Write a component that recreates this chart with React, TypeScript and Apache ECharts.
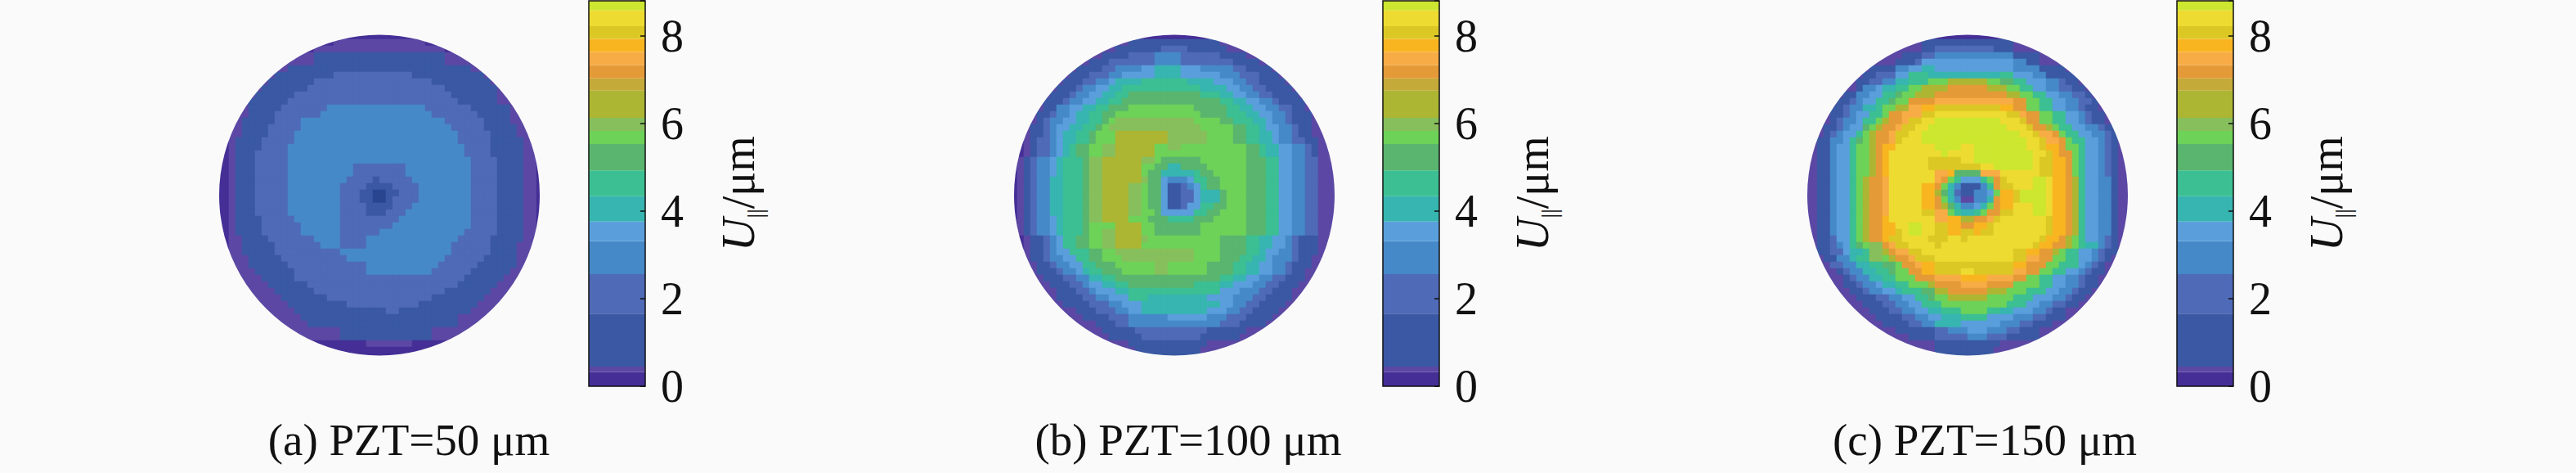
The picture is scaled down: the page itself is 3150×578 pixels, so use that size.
import React, { useEffect, useRef } from "react";
import * as echarts from "echarts";

const bandLetters = "abcdefghijklmnopqrs".split("");
const bandEdges = [0, 0.32, 0.45, 1.66, 2.56, 3.31, 3.76, 4.34, 4.93, 5.53, 5.83, 6.13, 6.75, 7.03, 7.33, 7.63, 7.93, 8.22, 8.58, 8.8];
const bandColors = ["#452f97", "#5c48a4", "#3a58a3", "#4f6ab6", "#4689c8", "#5a9fdc", "#37b5b0", "#3bbf93", "#5ab56e", "#6dd258", "#87bf5c", "#acb633", "#c4aa38", "#e59a38", "#f7ac45", "#f9b520", "#dcc825", "#eedb31", "#cde62f"];
const centreColor = "#2a4590";
const colorbarTicks = [0, 2, 4, 6, 8];
const captions = ["(a) PZT=50 μm", "(b) PZT=100 μm", "(c) PZT=150 μm"];

// Each row is run-length coded: a band letter followed by the number of cells, centred on the grid.
const panelARows = [
  "a14", "a3b14a3", "a2b20a2", "b4c20b4", "b5c20b5", "b3c28b3", "b2c9d12c11b2", "b2c7d18c9b2", "b2c7d21c8b2", "b2c6d24c7b3",
  "b1c6d26c6b3", "b2c5d7e15d7c6b2", "b3c4d7e17d7c5b3", "b2c5d4e22d6c4b3", "b3c4d5e23d5c5b3", "b3c4d4e25d5c4b3",
  "a2b1c4d5e25d5c5b2a1", "a2b1c4d4e27d4c5b2a1", "a2b1c3d5e27d4c5b2a1", "a2b1c3d5e28d4c4b2a1",
  "a2b1c3d5e10d8e10d4c4b2a1", "a2b1c3d5e10d8e10d4c4b2a1", "a2b1c3d5e9d4c1d5e9d4c4b2a1", "a2b1c3d5e8d4c4d4e8d4c4b2a1",
  "a2b1c3d5e8d3c2z2c2d3e8d4c4b2a1", "a2b1c3d5e8d3c2z2c1d4e8d4c4b2a1", "a2b1c3d5e8d4c4d3e9d4c4b2a1", "a2b1c3d5e8d4c3d3e10d4c4b2a1",
  "a2b1c4d5e7d9e11d4c4b2a1", "a2b1c4d6e6d8e12d4c4b2a1", "a2b1c4d6e6d6e13d5c4b2a1", "a2b2c4d7e4d4e14d5c5b2a1",
  "a2b2c5d7e3d4e13d6c4b3a1", "a2b2c5d10e17d6c4b3a1", "b4c5d10e15d6c5b3", "b4c6d12e11d6c6b3", "b4c6d11e10d6c6b3",
  "b5c5d26c6b4", "b5c6d23c6b4", "b6c6d20c7b5", "b6c7d16c8b5", "b6c9d11c9b5", "b6c14d2c11b5", "b6c24b6", "b6c23b5",
  "b9c14b7", "b8c14b6", "a10b7a7", "a18", "a10",
];

const panelBRows = [
  "a14", "b3c14b3", "b3c7d4c6b4", "b3c4d4e4d6c4b3", "b2c3d7e4d8c4b2", "b2c4d2e4f2g4f3e5d2c4b2",
  "b2c3d3e2f5g4f6e3d3c3b2", "b2c3d2e2f1g4h7g4f3e2d2c4b2", "b2c3d1e2f2g2h12g4f2e2d2c4b2",
  "b2c3d1e2f2g2h2i11h3g2f2e2d2c4b2", "b1c3d1e2f2g2h2i15h2g2f2e2d1c4b1",
  "b2c2e2f2g2h2i3j10i5h2g2f2e2d2c2b2", "b2c2d1e2f1g2h2i2j13i4h3g2f2e2d1c3b2",
  "b2c1d1e2f2g2h2i1j1k12j4i2h3g2f1e2d1c3b2", "b2c2d1e1f2g2h2i1j1k14j5i2h2g1f2e2d1c2b3",
  "b2c2d1e1f1g2h2i1j3l8k6j4i2h2g2f1e2d1c2b3", "a2b1c1d2e1f1g2h2i1j3l8k6j4i2h2g2f1e2d2c2b3",
  "a2b1c1d2e1f1g1h1i2j2k2l6j2k2j10i2h1g2f2e2d1c1b3", "a2b1c1d2e1f1g1h1i2j2k2l6j14i2h1g2f2e2d1c1b3",
  "a1b1c1d1e2f1g1h3i1k2l6k2j1i6j7i3h2f2e2d2b3", "a1b1c1d1e2f1g1h3i1k2l6j2i2g2i4j6i3h2f2e2d2b3",
  "a1b1c1d1e2f1g1h3i1k2l6j1i2g1g4h1i2j5i3h2f2e2d2b3", "a1b1c1d1e2g2h3i1k2l6k1i2f1e3f1h2i2j4i3h2f2e2d2b3",
  "a1b1c1d1e2g2h3i1k2l4k2j1i2f1c2d1e1f1h1i2j4i3h2f2e2d2b3", "a1b1c1d1e2g2h3i1k2l4k2j1i2f1c2d2f1g3i1j3i3h2f2e2d2b3",
  "a1b1c1d1e2g2h3i1k2l4k2j1i2f1c2d2f1g3i1j3i3h2f2e2d2b3", "a1b1c1d1e2g2h3i1k2l4k2j1i2f1c2d1f2h2i2j3i3h2f2e2d2b3",
  "a1b1c1d1e2g2h3i1k2l4k2j2i1f5h2i2j4i3h2f2e2d2b3", "a1b1c1d1e2f1g1h3i1k2l4j3i3h4i3j5i3h2f2e2d2b3",
  "a1b1c1d1e2f1g1h3i1j4l4j2i7j7i3h2f2e2d2b3", "a1b1c1d1e2f1g1h3i1j2k2l4j2i7j7i3h2f2e2d2b3",
  "a2b1c2d1e1f1h2i2j2k2l4k1j11i4h2g2f2e1d1c3b3", "a2b1c2d1e1f1h2i2j2k2l4j12i4h2g2f2e1d1c3b3",
  "a2b1c2d1e1f2h3i2j2k12j4i4h2g1f2e2d1c3b3", "b2c2d1e2f2h2i2j3k11j4i3h2g2f1e3d1c2b3",
  "b3c2d1e2f2h2i3j6k2j6i4h2g2f2e2d1c3b3", "b2c3d1e2f1g1h2i3j5k2j6i4h2g2f2e2d1c2b3",
  "b3c3d2e2g2h2i16h2g2f2e2d2c3b3", "b3c3d2e1f2g2h2i10h4g2f3e2d2c3b3", "b4c3d2e1f3g2h4h6h4f3e3d2c3b4",
  "b3c4d2e2f3h3g9f4e3d2c4b3", "b3c4d3e2f3g12f2e2d2c4b3", "b4c3d3e2f2g10f3e2d2c4b3", "b4c4d3e6f6e3d3c4b3",
  "b5c3d2e14d3c4b3", "b4c5d11c6b4", "b4c5d9c6b4", "b5c12b7", "b3c10b5", "c10",
];

const panelCRows = [
  "a14", "b3c14b3", "b5c2d9c3b5", "b4c3d2e12c4b3", "b4c3d1f14e2c2b4", "b2c4e2f2g2f12e4c4b2",
  "b2c2d3f2h3g11h2f3e2c5b1", "b2c2d2e2g2h3j3l6j2i2h2f3e2d1c2b2", "b3c1e2f1g2h2j2l4n6l3j2h2f2e2d2c2b2",
  "b2c2e2f2h2i1j2l3n11l2j2h2f2e2d2c1b2", "b1c2d1e1f2h2i1j2n4o12n2j2h2f2e2d2c1b1",
  "b1c2d1e2g2h1j2l2o2p2q10p2n2j2h2f2e2d1c2b2", "b2c2d1e1f2h2j1n2o3q2r11q2o1n2j2h2f2e1d1c2b2",
  "b2c1d1e2f1h2j1l1n2o1q2r2s10r3q1n2j2h2f2e1d1c2b2", "b2c2d1e1f2i1j1l1n2o1q2r2s12r3q1n2l1j1h2f2e2d1c2b1",
  "b2c1d1e1f2h1j1l1n2o1q2r2s15r2q1o2n1j1h2f2e2d1c1b1", "b2c2e2f1h1i1j1l1n2o1q1r3s16r2q1o2n1j1h2f2e1d1c1b2",
  "b2c2e1f2h1j2l1n1p2r6s4r2s8r2q1p2n1j2h1f2e1d1c1b2", "b2c2e1f2h1j2l1n1p1r8s1r4s9r2q1p1n2j1h1f2e1d1c1b2",
  "b2c2e1f2h1j2l1n1p1r6q5r2s9r1q2p2n1j1h1f2e1d1c1b2", "b2c2e1f2h1j2l1n1p1r6q8r2s6r1q2p2n1j1h1f2e1d1c1b2",
  "b2c2e1f2h1j2l1n1p1r7o2p1i4o3r5r1q2p2n1j1h1f2e1d1c1b2", "b2c2e1f2h1j1l1n2o1r7o1n1j1h1f3h1j1n1q1r4s2r1p2n1l1h1f2e2c1b2",
  "b2c2e1f2h1j1l1n2o1r5p2n1j1g1e1c3e1h1n1q2r3s2r1p2n1l1h1f2e2c1b2", "b2c2e1f2h1j1l1n2o1r5p2l1i1g1d1c2e2f1j1p2q1s2s2r1p2n1l1h1f2e2c1b2",
  "b2c2e1f2h1j1l1n2o1r5p2n1j1g1e1b2e2g1n1p2q1s2s2r1p2n1l1h1f2e2c1b2", "b2c2e1f2h1j1l1n2o1r5p2n1l1i1g1e2f1g1j1n1p2r3s2r1p2n1l1h1f2e2c1b2",
  "b2c2e1f2h1j1l1n2o1r5q2o2j1h1g2h1j1n2q2r3s2r1p2n1l1h1f2e2c1b2", "b2c2e1f2h1j1l1n2p1r7o2p2l2n2o1q1r5r2q1p2n1l1h1f2e2c1b2",
  "b2c2e1f2h1j1l1n2p2r2s2r2q2p2n2p2q1r8q1p2n1l1h1f2e2c1b2", "b2c2e1f2h1j1l1n2p2q1r1s2r2q2p2q2p1q2r8q1p2n1l1h1f2e2c1b2",
  "b2c2d1f2h1j1l1n2p1q2r4q3r2q1r11q1p2n1l1j1h1f2e1d1c1b2", "b2c2d1e1f1h1i1j1k2n1o1q2r4q1r14q1p2n2l1j1h1g2e1d1c1b2",
  "b2c2d2f1g2h1k2l1n1o2q2r14q2p2n2l1j1h2f2e1d1c2b2", "b2c2e2g1h2k2j1l1n2o1q3r12q2o2n2j2h2f2e1d1c1b2",
  "b3d2e2g2h2i2j1n2o1p2q12p2n3j2h3f1e1d1c1b3", "b3c1d1e2g2h2i1j2n2p2q4r2q6o2n2j2h2f2e1d1c2b2",
  "b4c1d1e2g2h2j3n3o4p4o4n2j2h2f2e2d1c2b3", "b3c2d1e2f1g2h2j3l1n4o4n4j4h2f2e2d1c2b2",
  "b4c2d1e2f2g1h3i2l2n6l3j3h3f2e2d1c2b3", "b4c3d2e2f2h2i1j2l6j4h3f3e2d1c2b3", "b4c3d2e2f2h3j10h3f2e2d2c2b3",
  "b4c3d2e2f2g2h3j4h2g2f3e2d1c2b4", "b4c4d2e2f2g3h4f4e3d2c3b3", "b4c4d2e2g4f6e3d2c3b4", "b4c6d2e3f3e3d2c3b4",
  "b5c4d5e3d3c5b3", "b7c10b7", "b4c9b5", "c10",
];

const panelRows = [panelARows, panelBRows, panelCRows];
const heatLefts = [264, 1236, 2206];
const barLefts = [720, 1691, 2662];
const captionCentres = [500, 1453, 2427];
const discCentres = [464, 1436, 2406];
const GRID = 50;

function decode(rows: string[]) {
  const out: number[][] = [];
  rows.forEach((row, r) => {
    const runs = [...row.matchAll(/([a-z])(\d+)/g)].map((m) => [m[1], Number(m[2])] as [string, number]);
    const total = runs.reduce((s, x) => s + x[1], 0);
    let col = Math.floor(GRID / 2 - total / 2);
    runs.forEach(([letter, count]) => {
      const i = bandLetters.indexOf(letter);
      const v = letter === "z" ? -1 : (bandEdges[i] + bandEdges[i + 1]) / 2;
      for (let k = 0; k < count; k++) out.push([col++, r, v]);
    });
  });
  return out;
}

const cats = Array.from({ length: GRID }, (_, i) => String(i));
const bg = "#fafafa";
const serif = "Liberation Serif";

function buildOption() {
  const grid: any[] = [];
  const xAxis: any[] = [];
  const yAxis: any[] = [];
  const series: any[] = [];
  panelRows.forEach((rows, p) => {
    grid.push({ left: heatLefts[p], top: 40, width: 400, height: 400 });
    xAxis.push({ type: "category", gridIndex: p, data: cats, show: false });
    yAxis.push({ type: "category", gridIndex: p, data: cats, show: false, inverse: true });
    series.push({
      type: "heatmap",
      xAxisIndex: p,
      yAxisIndex: p,
      data: decode(rows),
      silent: true,
      z: 2,
      itemStyle: { borderWidth: 0 },
      emphasis: { disabled: true },
    });
  });
  panelRows.forEach((_, p) => {
    const g = p + 3;
    grid.push({ left: barLefts[p], top: 1, width: 69, height: 471, show: true, z: 5, backgroundColor: "transparent", borderColor: "#111", borderWidth: 1.5 });
    xAxis.push({ type: "category", gridIndex: g, data: ["U"], show: false });
    yAxis.push({
      type: "value",
      gridIndex: g,
      position: "right",
      min: 0,
      max: 8.8,
      interval: 2,
      z: 6,
      splitLine: { show: false },
      axisLine: { show: false },
      axisTick: { show: true, inside: true, length: 6, lineStyle: { color: "#111", width: 1.5 } },
      axisLabel: {
        margin: 19,
        fontFamily: serif,
        fontSize: 56,
        color: "#111",
        formatter: (v: number) => (colorbarTicks.includes(v) ? String(v) : ""),
      },
      name: "{u|U}{s|||}{t|/μm}",
      nameLocation: "middle",
      nameRotate: 90,
      nameGap: 86,
      nameTextStyle: {
        rich: {
          u: { fontFamily: serif, fontStyle: "italic", fontSize: 56, color: "#111" },
          s: { fontFamily: serif, fontSize: 28, color: "#111", verticalAlign: "bottom", padding: [0, 0, -6, 0] },
          t: { fontFamily: serif, fontSize: 56, color: "#111" },
        },
      },
    });
    bandColors.forEach((color, i) => {
      series.push({
        type: "bar",
        xAxisIndex: g,
        yAxisIndex: g,
        stack: "bar" + p,
        barWidth: "100%",
        silent: true,
        z: 2,
        itemStyle: { color },
        data: [bandEdges[i + 1] - bandEdges[i]],
      });
    });
  });
  const graphic: any[] = [];
  discCentres.forEach((cx) => {
    graphic.push({
      type: "ring",
      z: 10,
      silent: true,
      shape: { cx, cy: 238.5, r: 222, r0: 196 },
      style: { fill: bg },
    });
  });
  captions.forEach((text, i) => {
    graphic.push({
      type: "text",
      z: 10,
      x: captionCentres[i],
      y: 510,
      style: { text, fill: "#111", font: `55px "${serif}"`, textAlign: "center", textVerticalAlign: "top" },
    });
  });
  const pieces: any[] = bandColors.map((color, i) => ({ gte: bandEdges[i], lt: bandEdges[i + 1], color }));
  pieces.push({ gte: -2, lt: -0.5, color: centreColor });
  return {
    animation: false,
    backgroundColor: bg,
    tooltip: { show: false },
    grid,
    xAxis,
    yAxis,
    visualMap: { type: "piecewise", show: false, dimension: 2, seriesIndex: [0, 1, 2], pieces },
    series,
    graphic,
  };
}

export default function App() {
  const ref = useRef<HTMLDivElement>(null);
  useEffect(() => {
    document.body.style.margin = "0";
    document.body.style.background = bg;
    const chart = echarts.init(ref.current!, undefined, { renderer: "svg" });
    chart.setOption(buildOption() as any);
    return () => chart.dispose();
  }, []);
  return <div ref={ref} style={{ width: 3150, height: 578 }} />;
}
